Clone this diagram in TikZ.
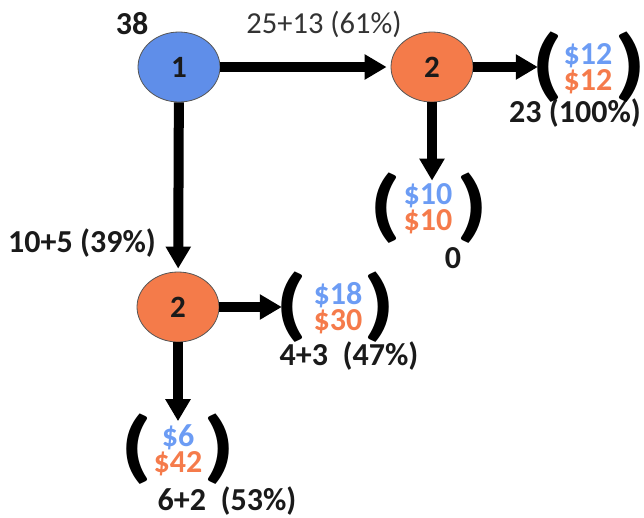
\documentclass[tikz,border=0pt]{standalone}
\usepackage{fontspec}
\setmainfont{Carlito}
\usetikzlibrary{shapes.geometric,arrows.meta}
\definecolor{nblue}{HTML}{5F8EE9}
\definecolor{norange}{HTML}{F47B4A}
\definecolor{tblue}{HTML}{6C9CF4}
\definecolor{torange}{HTML}{F57B4B}
\definecolor{edgegray}{HTML}{555555}
\definecolor{txt}{HTML}{1A1A1A}
\definecolor{txtreg}{HTML}{333333}
\newcommand{\bigparen}[1]{\makebox[18pt][c]{\scalebox{1.3}[1]{#1}}}
\tikzset{
  state/.style={ellipse, draw=edgegray, line width=0.8pt, minimum width=82pt, minimum height=70pt, inner sep=0pt, font=\fontsize{31}{31}\selectfont\bfseries, text=txt},
  lbl/.style={inner sep=0pt, font=\fontsize{32}{32}\selectfont\bfseries, text=txt},
  lblreg/.style={inner sep=0pt, font=\fontsize{30.5}{30}\selectfont, text=txtreg},
  money/.style={inner sep=0pt, align=center, font=\fontsize{32}{26}\selectfont\bfseries},
  paren/.style={inner sep=0pt, font=\fontsize{79}{79}\selectfont\bfseries, text=black},
  arr/.style={line width=10pt, -{Triangle[length=22pt,width=24pt]}}
}
\begin{document}
\begin{tikzpicture}[x=1pt,y=-1pt]
\path[use as bounding box] (0,0) rectangle (644,517);
% states
\node[state, fill=nblue] (n1) at (179,67) {1};
\node[state, fill=norange] (n2a) at (432,67) {2};
\node[state, fill=norange] (n2b) at (178,307) {2};
% labels
\node[lbl] (l38) at (132,24) {38};
\node[lblreg] (l25) at (324,24) {25+13 (61\%)};
\node[lbl] (l10) at (82,243) {10+5 (39\%)};
\node[lbl] (l23) at (575,113) {23 (100\%)};
\node[lbl] (l0) at (453,258) {0};
\node[lbl] (l4) at (349,356) {4+3\ \ (47\%)};
\node[lbl] (l6) at (227,501) {6+2\ \ (53\%)};
% payoff groups
\node[money] (g1) at (588,69) {\textcolor{tblue}{\$12}\\\textcolor{torange}{\$12}};
\node[paren] (g1l) at (547,67) {\bigparen{(}};
\node[paren] (g1r) at (630,67) {\bigparen{)}};
\node[money] (g2) at (428,209) {\textcolor{tblue}{\$10}\\\textcolor{torange}{\$10}};
\node[paren] (g2l) at (385,208) {\bigparen{(}};
\node[paren] (g2r) at (472,208) {\bigparen{)}};
\node[money] (g3) at (338,308) {\textcolor{tblue}{\$18}\\\textcolor{torange}{\$30}};
\node[paren] (g3l) at (291,307) {\bigparen{(}};
\node[paren] (g3r) at (379,307) {\bigparen{)}};
\node[money] (g4) at (178,450) {\textcolor{tblue}{\$6}\\\textcolor{torange}{\$42}};
\node[paren] (g4l) at (136,449) {\bigparen{(}};
\node[paren] (g4r) at (219,449) {\bigparen{)}};
% arrows
\draw[arr, shorten >=4pt] (n1) -- (n2a);
\draw[arr, shorten >=3pt] (n1) -- (n2b);
\draw[arr] (n2a) -- (g1l.west);
\draw[arr, shorten >=3pt] (n2a.south) -- (n2a.south |- g2.north);
\draw[arr] (n2b) -- (g3l.west);
\draw[arr, shorten >=3pt] (n2b.south) -- (n2b.south |- g4.north);
\end{tikzpicture}
\end{document}
